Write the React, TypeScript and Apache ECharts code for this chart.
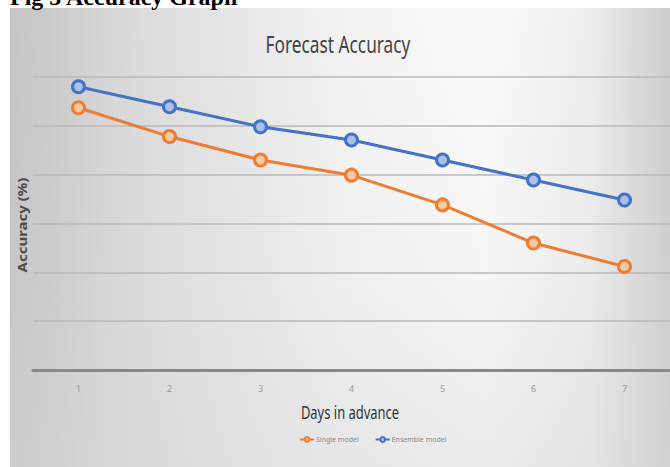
import React, { useEffect, useRef } from "react";
import * as echarts from "echarts";

const days = ["1", "2", "3", "4", "5", "6", "7"];
const singleModel = [93.7, 87.8, 83.0, 79.9, 73.8, 66.0, 61.2];
const ensembleModel = [98.0, 93.9, 89.8, 87.1, 83.0, 78.9, 74.8];
const seriesNames = ["Single model", "Ensemble model"];
const yMin = 40;
const yMax = 100;
const yStep = 10;

export default function App() {
  const ref = useRef<HTMLDivElement>(null);
  useEffect(() => {
    if (!ref.current) return;
    const chart = echarts.init(ref.current, undefined, { renderer: "svg" });
    chart.setOption({
      animation: false,
      backgroundColor: "#ffffff",
      graphic: [
        {
          type: "rect",
          z: -100,
          silent: true,
          shape: { x: 10, y: 8, width: 660, height: 459 },
          style: {
            fill: new echarts.graphic.LinearGradient(0, 0, 1, 0, [
              { offset: 0, color: "#c4c4c4" },
              { offset: 0.2, color: "#dcdcdc" },
              { offset: 0.5, color: "#f3f3f3" },
              { offset: 0.72, color: "#fbfbfb" },
              { offset: 0.88, color: "#eeeeee" },
              { offset: 1, color: "#cdcdcd" },
            ]),
          },
        },
        {
          type: "rect",
          z: -99,
          silent: true,
          shape: { x: 10, y: 8, width: 660, height: 459 },
          style: {
            fill: new echarts.graphic.LinearGradient(0, 0, 0, 1, [
              { offset: 0, color: "rgba(210,210,210,0)" },
              { offset: 0.6, color: "rgba(215,215,215,0.15)" },
              { offset: 1, color: "rgba(215,215,215,0.45)" },
            ]),
          },
        },
        {
          type: "text",
          z: 100,
          x: 10,
          y: -3,
          style: {
            text: "Fig 5 Accuracy Graph",
            font: "bold 24px 'Liberation Serif', serif",
            fill: "#000000",
            textAlign: "left",
            textVerticalAlign: "middle",
          },
        },
        {
          type: "text",
          z: 100,
          x: 338,
          y: 44,
          scaleX: 0.72,
          style: {
            text: "Forecast Accuracy",
            font: "24px 'Noto Sans', sans-serif",
            fill: "#444444",
            textAlign: "center",
            textVerticalAlign: "middle",
          },
        },
        {
          type: "text",
          z: 100,
          x: 350,
          y: 412,
          scaleX: 0.72,
          style: {
            text: "Days in advance",
            font: "18px 'Noto Sans', sans-serif",
            fill: "#333333",
            textAlign: "center",
            textVerticalAlign: "middle",
          },
        },
        {
          type: "text",
          z: 100,
          x: 22,
          y: 225,
          rotation: Math.PI / 2,
          scaleX: 1.25,
          style: {
            text: "Accuracy (%)",
            font: "bold 12px 'Noto Sans', sans-serif",
            fill: "#4a4a4a",
            textAlign: "center",
            textVerticalAlign: "middle",
          },
        },
      ],
      legend: {
        left: 294,
        top: 431,
        itemWidth: 14,
        itemHeight: 6,
        itemGap: 16,
        data: seriesNames,
        textStyle: { fontSize: 7, color: "#8a8a8a", fontFamily: "'Noto Sans', sans-serif", padding: [0, 0, 0, -3] },
      },
      grid: { left: 33, top: 77, width: 641, height: 293, containLabel: false },
      xAxis: {
        type: "category",
        data: days,
        boundaryGap: true,
        axisLine: { show: true, lineStyle: { color: "#888888", width: 3 } },
        axisTick: { show: false },
        axisLabel: { color: "#9a9a9a", fontSize: 9, margin: 14, fontFamily: "'Noto Sans', sans-serif" },
        splitLine: { show: false },
      },
      yAxis: {
        type: "value",
        min: yMin,
        max: yMax,
        interval: yStep,
        axisLine: { show: false },
        axisTick: { show: false },
        axisLabel: { show: false },
        splitLine: { show: true, lineStyle: { color: "#b9b9b9", width: 1.5 } },
      },
      series: [
        {
          name: seriesNames[0],
          type: "line",
          data: singleModel,
          symbol: "circle",
          symbolSize: 12,
          lineStyle: { color: "#ed7d31", width: 3 },
          itemStyle: { color: "#f5c9a4", borderColor: "#ed7d31", borderWidth: 3 },
          z: 3,
        },
        {
          name: seriesNames[1],
          type: "line",
          data: ensembleModel,
          symbol: "circle",
          symbolSize: 12,
          lineStyle: { color: "#4472c4", width: 3 },
          itemStyle: { color: "#a8c0ea", borderColor: "#4472c4", borderWidth: 3 },
          z: 4,
        },
      ],
    });
    return () => chart.dispose();
  }, []);
  return (
    <div
      ref={ref}
      style={{ position: "absolute", left: 0, top: 0, width: 670, height: 467 }}
    />
  );
}
